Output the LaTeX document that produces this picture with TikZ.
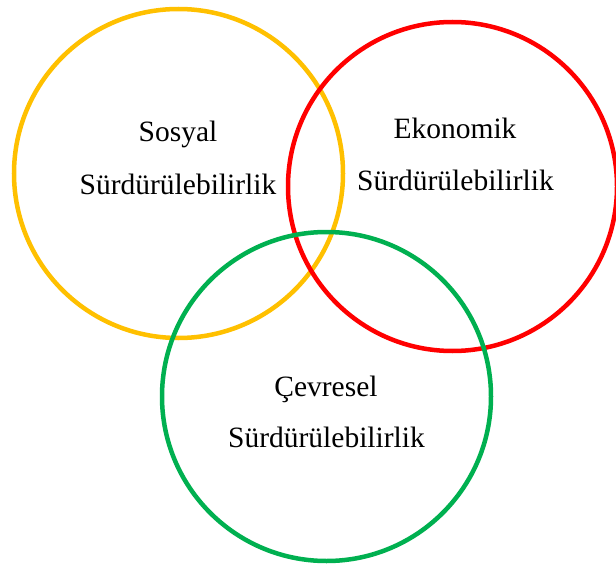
\documentclass[tikz,border=0pt]{standalone}
\usepackage{fontspec}
\setmainfont{Liberation Serif}
\definecolor{cyellow}{HTML}{FFC000}
\definecolor{cred}{HTML}{FF0000}
\definecolor{cgreen}{HTML}{00B050}
\begin{document}
\begin{tikzpicture}[x=1pt,y=-1pt,
  ring/.style={draw=#1,line width=4.5pt,circle,minimum size=329pt,inner sep=0pt},
  lbl/.style={anchor=base,inner sep=0pt,font=\fontsize{29.5}{34}\selectfont}]
\useasboundingbox (0,0) rectangle (616,567);
\node[ring=cyellow] (soc) at (178.5,173.5) {};
\node[ring=cred] (eco) at (452.5,186.5) {};
\node[ring=cgreen] (env) at (326.5,396.5) {};
\node[lbl] (s1) at (178,142) {Sosyal};
\node[lbl] (s2) at (178,194) {Sürdürülebilirlik};
\node[lbl] (e1) at (455,139) {Ekonomik};
\node[lbl] (e2) at (455.5,190) {Sürdürülebilirlik};
\node[lbl] (c1) at (326,396) {Çevresel};
\node[lbl] (c2) at (326.5,447) {Sürdürülebilirlik};
\end{tikzpicture}
\end{document}
